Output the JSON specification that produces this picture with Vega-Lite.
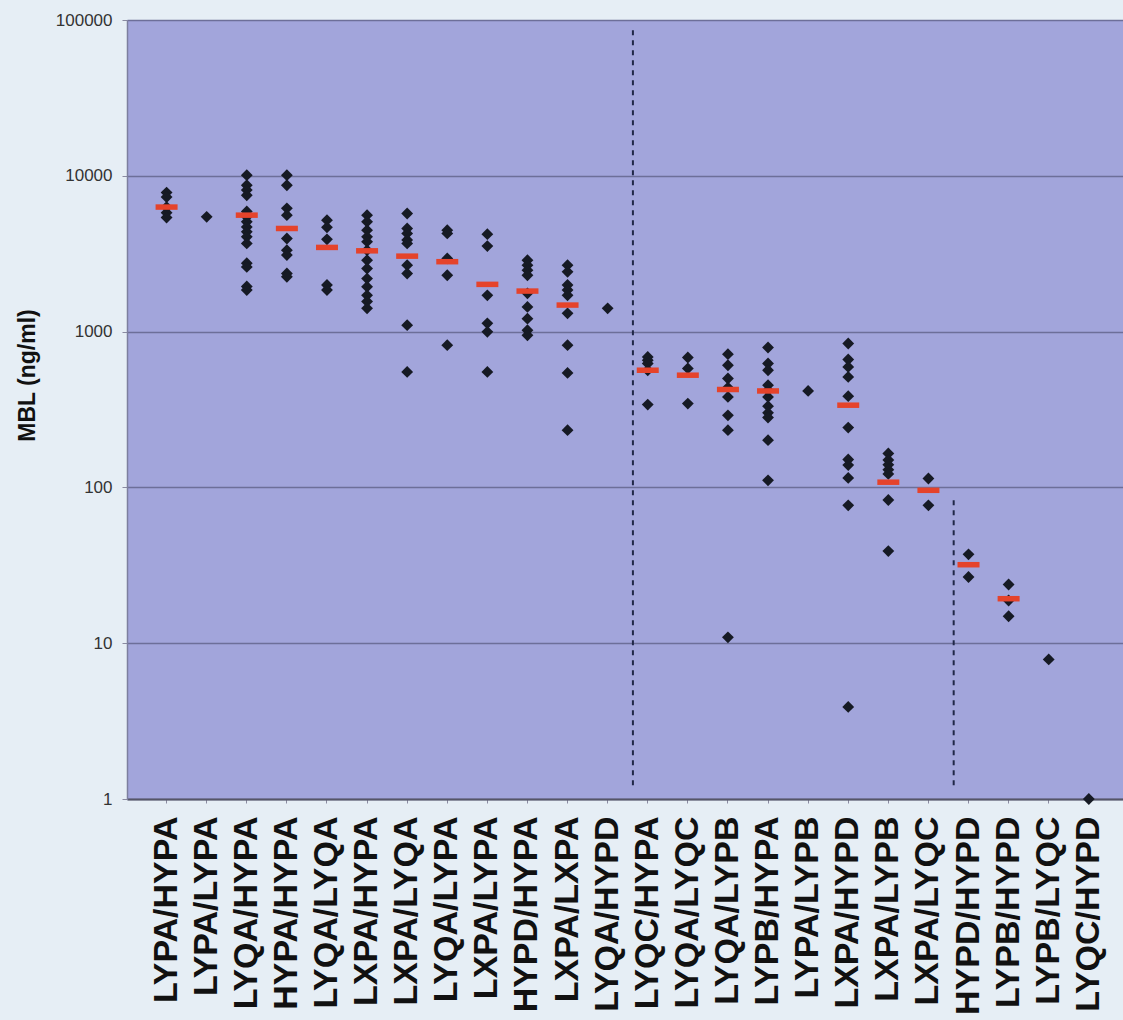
{
  "$schema": "https://vega.github.io/schema/vega-lite/v6.json",
  "width": 996,
  "height": 779,
  "autosize": {"type": "none"},
  "padding": {"left": 127, "top": 20, "right": 0, "bottom": 221},
  "background": "#e6eef5",
  "config": {"view": {"fill": "#a2a5db", "stroke": null}},
  "datasets": {
    "pts": [
      {"g": "LYPA/HYPA", "v": 7800}, {"g": "LYPA/HYPA", "v": 7300}, {"g": "LYPA/HYPA", "v": 6300}, {"g": "LYPA/HYPA", "v": 5800}, {"g": "LYPA/HYPA", "v": 5400},
      {"g": "LYPA/LYPA", "v": 5450},
      {"g": "LYQA/HYPA", "v": 10100}, {"g": "LYQA/HYPA", "v": 8700}, {"g": "LYQA/HYPA", "v": 8100}, {"g": "LYQA/HYPA", "v": 7500}, {"g": "LYQA/HYPA", "v": 5900}, {"g": "LYQA/HYPA", "v": 5450}, {"g": "LYQA/HYPA", "v": 5070}, {"g": "LYQA/HYPA", "v": 4700}, {"g": "LYQA/HYPA", "v": 4370}, {"g": "LYQA/HYPA", "v": 4060}, {"g": "LYQA/HYPA", "v": 3680}, {"g": "LYQA/HYPA", "v": 2750}, {"g": "LYQA/HYPA", "v": 2600}, {"g": "LYQA/HYPA", "v": 1950}, {"g": "LYQA/HYPA", "v": 1850},
      {"g": "HYPA/HYPA", "v": 10100}, {"g": "HYPA/HYPA", "v": 8700}, {"g": "HYPA/HYPA", "v": 6180}, {"g": "HYPA/HYPA", "v": 5590}, {"g": "HYPA/HYPA", "v": 3960}, {"g": "HYPA/HYPA", "v": 3330}, {"g": "HYPA/HYPA", "v": 3100}, {"g": "HYPA/HYPA", "v": 2360}, {"g": "HYPA/HYPA", "v": 2250},
      {"g": "LYQA/LYQA", "v": 5190}, {"g": "LYQA/LYQA", "v": 4670}, {"g": "LYQA/LYQA", "v": 3910}, {"g": "LYQA/LYQA", "v": 1990}, {"g": "LYQA/LYQA", "v": 1850},
      {"g": "LXPA/HYPA", "v": 5590}, {"g": "LXPA/HYPA", "v": 5070}, {"g": "LXPA/HYPA", "v": 4480}, {"g": "LXPA/HYPA", "v": 4060}, {"g": "LXPA/HYPA", "v": 3780}, {"g": "LXPA/HYPA", "v": 3330}, {"g": "LXPA/HYPA", "v": 2870}, {"g": "LXPA/HYPA", "v": 2540}, {"g": "LXPA/HYPA", "v": 2190}, {"g": "LXPA/HYPA", "v": 1940}, {"g": "LXPA/HYPA", "v": 1710}, {"g": "LXPA/HYPA", "v": 1560}, {"g": "LXPA/HYPA", "v": 1410},
      {"g": "LXPA/LYQA", "v": 5730}, {"g": "LXPA/LYQA", "v": 4590}, {"g": "LXPA/LYQA", "v": 4270}, {"g": "LXPA/LYQA", "v": 3870}, {"g": "LXPA/LYQA", "v": 3680}, {"g": "LXPA/LYQA", "v": 2670}, {"g": "LXPA/LYQA", "v": 2360}, {"g": "LXPA/LYQA", "v": 1100}, {"g": "LXPA/LYQA", "v": 551},
      {"g": "LYQA/LYPA", "v": 4480}, {"g": "LYQA/LYPA", "v": 4270}, {"g": "LYQA/LYPA", "v": 2950}, {"g": "LYQA/LYPA", "v": 2300}, {"g": "LYQA/LYPA", "v": 818},
      {"g": "LXPA/LYPA", "v": 4220}, {"g": "LXPA/LYPA", "v": 3540}, {"g": "LXPA/LYPA", "v": 1710}, {"g": "LXPA/LYPA", "v": 1130}, {"g": "LXPA/LYPA", "v": 996}, {"g": "LXPA/LYPA", "v": 551},
      {"g": "HYPD/HYPA", "v": 2870}, {"g": "HYPD/HYPA", "v": 2670}, {"g": "HYPD/HYPA", "v": 2480}, {"g": "HYPD/HYPA", "v": 2300}, {"g": "HYPD/HYPA", "v": 1760}, {"g": "HYPD/HYPA", "v": 1440}, {"g": "HYPD/HYPA", "v": 1210}, {"g": "HYPD/HYPA", "v": 1020}, {"g": "HYPD/HYPA", "v": 948},
      {"g": "LXPA/LXPA", "v": 2670}, {"g": "LXPA/LXPA", "v": 2420}, {"g": "LXPA/LXPA", "v": 1990}, {"g": "LXPA/LXPA", "v": 1850}, {"g": "LXPA/LXPA", "v": 1710}, {"g": "LXPA/LXPA", "v": 1310}, {"g": "LXPA/LXPA", "v": 818}, {"g": "LXPA/LXPA", "v": 543}, {"g": "LXPA/LXPA", "v": 233},
      {"g": "LYQA/HYPD", "v": 1410},
      {"g": "LYQC/HYPA", "v": 688}, {"g": "LYQC/HYPA", "v": 655}, {"g": "LYQC/HYPA", "v": 624}, {"g": "LYQC/HYPA", "v": 565}, {"g": "LYQC/HYPA", "v": 340},
      {"g": "LYQA/LYQC", "v": 682}, {"g": "LYQA/LYQC", "v": 580}, {"g": "LYQA/LYQC", "v": 345},
      {"g": "LYQA/LYPB", "v": 716}, {"g": "LYQA/LYPB", "v": 608}, {"g": "LYQA/LYPB", "v": 500}, {"g": "LYQA/LYPB", "v": 437}, {"g": "LYQA/LYPB", "v": 381}, {"g": "LYQA/LYPB", "v": 290}, {"g": "LYQA/LYPB", "v": 233}, {"g": "LYQA/LYPB", "v": 10.9},
      {"g": "LYPB/HYPA", "v": 791}, {"g": "LYPB/HYPA", "v": 624}, {"g": "LYPB/HYPA", "v": 565}, {"g": "LYPB/HYPA", "v": 453}, {"g": "LYPB/HYPA", "v": 421}, {"g": "LYPB/HYPA", "v": 381}, {"g": "LYPB/HYPA", "v": 332}, {"g": "LYPB/HYPA", "v": 301}, {"g": "LYPB/HYPA", "v": 281}, {"g": "LYPB/HYPA", "v": 201}, {"g": "LYPB/HYPA", "v": 111},
      {"g": "LYPA/LYPB", "v": 416},
      {"g": "LXPA/HYPD", "v": 839}, {"g": "LXPA/HYPD", "v": 662}, {"g": "LXPA/HYPD", "v": 593}, {"g": "LXPA/HYPD", "v": 512}, {"g": "LXPA/HYPD", "v": 385}, {"g": "LXPA/HYPD", "v": 242}, {"g": "LXPA/HYPD", "v": 151}, {"g": "LXPA/HYPD", "v": 139}, {"g": "LXPA/HYPD", "v": 115}, {"g": "LXPA/HYPD", "v": 76.7}, {"g": "LXPA/HYPD", "v": 3.9},
      {"g": "LXPA/LYPB", "v": 165}, {"g": "LXPA/LYPB", "v": 150}, {"g": "LXPA/LYPB", "v": 140}, {"g": "LXPA/LYPB", "v": 130}, {"g": "LXPA/LYPB", "v": 122}, {"g": "LXPA/LYPB", "v": 83}, {"g": "LXPA/LYPB", "v": 39},
      {"g": "LXPA/LYQC", "v": 114}, {"g": "LXPA/LYQC", "v": 76.7},
      {"g": "HYPD/HYPD", "v": 37.2}, {"g": "HYPD/HYPD", "v": 26.6},
      {"g": "LYPB/HYPD", "v": 23.8}, {"g": "LYPB/HYPD", "v": 18.8}, {"g": "LYPB/HYPD", "v": 14.9},
      {"g": "LYPB/LYQC", "v": 7.87},
      {"g": "LYQC/HYPD", "v": 1}
    ],
    "med": [
      {"g": "LYPA/HYPA", "v": 6300}, {"g": "LYQA/HYPA", "v": 5590}, {"g": "HYPA/HYPA", "v": 4590}, {"g": "LYQA/LYQA", "v": 3470},
      {"g": "LXPA/HYPA", "v": 3300}, {"g": "LXPA/LYQA", "v": 3050}, {"g": "LYQA/LYPA", "v": 2810}, {"g": "LXPA/LYPA", "v": 2010},
      {"g": "HYPD/HYPA", "v": 1820}, {"g": "LXPA/LXPA", "v": 1480}, {"g": "LYQC/HYPA", "v": 565}, {"g": "LYQA/LYQC", "v": 525},
      {"g": "LYQA/LYPB", "v": 425}, {"g": "LYPB/HYPA", "v": 416}, {"g": "LXPA/HYPD", "v": 337}, {"g": "LXPA/LYPB", "v": 108},
      {"g": "LXPA/LYQC", "v": 95.8}, {"g": "HYPD/HYPD", "v": 31.9}, {"g": "LYPB/HYPD", "v": 19.3}
    ],
    "div": [
      {"g": "LYQC/HYPA", "top": 86000, "bottom": 1.17},
      {"g": "HYPD/HYPD", "top": 82.6, "bottom": 1.17}
    ]
  },
  "encoding": {
    "x": {
      "field": "g",
      "type": "nominal",
      "scale": {
        "domain": ["LYPA/HYPA", "LYPA/LYPA", "LYQA/HYPA", "HYPA/HYPA", "LYQA/LYQA", "LXPA/HYPA", "LXPA/LYQA", "LYQA/LYPA", "LXPA/LYPA", "HYPD/HYPA", "LXPA/LXPA", "LYQA/HYPD", "LYQC/HYPA", "LYQA/LYQC", "LYQA/LYPB", "LYPB/HYPA", "LYPA/LYPB", "LXPA/HYPD", "LXPA/LYPB", "LXPA/LYQC", "HYPD/HYPD", "LYPB/HYPD", "LYPB/LYQC", "LYQC/HYPD"],
        "paddingInner": 0,
        "paddingOuter": 0.42,
        "align": 0.58
      },
      "axis": {
        "title": null,
        "labelAngle": 270,
        "labelFont": "Liberation Sans",
        "labelFontSize": 34,
        "labelFontWeight": "bold",
        "labelColor": "#111111",
        "labelLimit": 0,
        "labelOverlap": false,
        "labelPadding": 13,
        "tickSize": 4,
        "tickColor": "#8a8aa0",
        "domainColor": "#555566",
        "domainWidth": 2,
        "grid": false
      }
    }
  },
  "layer": [
    {
      "data": {"name": "pts"},
      "mark": {"type": "point", "shape": "diamond", "filled": true, "size": 140, "color": "#161a24", "opacity": 1},
      "encoding": {
        "y": {
          "field": "v",
          "type": "quantitative",
          "scale": {"type": "log", "domain": [1, 100000], "nice": false},
          "axis": {
            "values": [1, 10, 100, 1000, 10000, 100000],
            "format": "d",
            "labelFont": "Liberation Sans",
            "labelFontSize": 17,
            "labelColor": "#333333",
            "labelPadding": 10,
            "tickSize": 5,
            "tickColor": "#8a8aa0",
            "domainColor": "#7d7f9e",
            "domainWidth": 1.5,
            "grid": true,
            "gridColor": "#6d6f99",
            "gridWidth": 1.5,
            "gridOpacity": 1,
            "title": "MBL (ng/ml)",
            "titleFont": "Liberation Sans",
            "titleFontSize": 23,
            "titleFontWeight": "bold",
            "titleColor": "#111111",
            "titleX": -100,
            "titleY": 355,
            "titleAngle": 270,
            "titleAlign": "center",
            "titleBaseline": "middle"
          }
        }
      }
    },
    {
      "data": {"name": "med"},
      "mark": {"type": "point", "shape": "M-1,-0.25H1V0.25H-1Z", "filled": true, "size": 484, "color": "#e5432b", "opacity": 1},
      "encoding": {
        "y": {"field": "v", "type": "quantitative"}
      }
    },
    {
      "data": {"name": "div"},
      "mark": {"type": "rule", "strokeDash": [5, 5], "strokeWidth": 2, "color": "#1f2747"},
      "encoding": {
        "x": {"field": "g", "type": "nominal", "bandPosition": 0.13},
        "y": {"field": "top", "type": "quantitative"},
        "y2": {"field": "bottom"}
      }
    }
  ]
}
